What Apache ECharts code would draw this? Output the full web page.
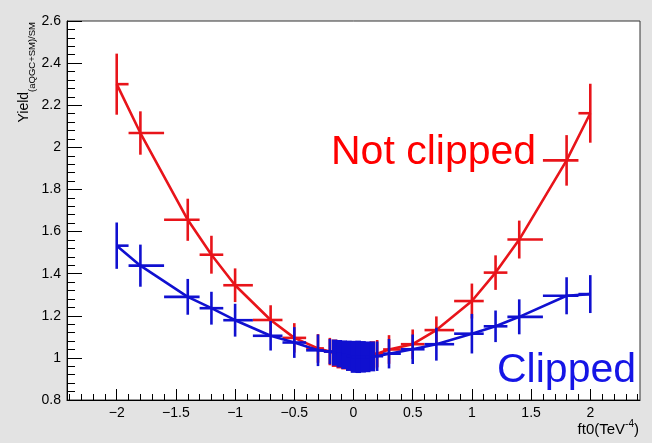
<!DOCTYPE html>
<html>
<head>
<meta charset="utf-8">
<script src="https://cdn.jsdelivr.net/npm/echarts@6/dist/echarts.min.js"></script>
<style>
  html, body { margin: 0; padding: 0; background: #e3e3e3; }
  #chart { width: 652px; height: 443px; }
</style>
</head>
<body>
<div id="chart"></div>
<script>
// ft0 values (TeV^-4), shared by both graphs
const ft0Values = [-2, -1.8, -1.4, -1.2, -1.0, -0.7, -0.5, -0.3,
  -0.2, -0.16, -0.12, -0.08, -0.04, 0, 0.04, 0.08, 0.12, 0.16, 0.2,
  0.3, 0.5, 0.7, 1.0, 1.2, 1.4, 1.8, 2.0];

// "Not clipped" (red)
const notClippedYield = [2.30, 2.068, 1.656, 1.49, 1.345, 1.18, 1.095, 1.045,
  1.03, 1.022, 1.015, 1.01, 1.005, 1.0, 1.0, 1.003, 1.008, 1.014, 1.02,
  1.04, 1.065, 1.132, 1.27, 1.405, 1.562, 1.938, 2.162];
const notClippedErr = [0.145, 0.103, 0.10, 0.09, 0.08, 0.07, 0.07, 0.068,
  0.065, 0.065, 0.065, 0.065, 0.065, 0.065, 0.065, 0.065, 0.065, 0.065, 0.065,
  0.068, 0.07, 0.065, 0.083, 0.082, 0.09, 0.12, 0.14];

// "Clipped" (blue)
const clippedYield = [1.533, 1.438, 1.29, 1.236, 1.179, 1.105, 1.073, 1.036,
  1.03, 1.025, 1.02, 1.015, 1.01, 1.005, 1.005, 1.005, 1.005, 1.007, 1.008,
  1.02, 1.041, 1.065, 1.115, 1.15, 1.195, 1.295, 1.303];
const clippedErr = [0.11, 0.10, 0.085, 0.078, 0.078, 0.07, 0.073, 0.075,
  0.06, 0.062, 0.065, 0.068, 0.072, 0.076, 0.077, 0.075, 0.073, 0.071, 0.07,
  0.07, 0.07, 0.078, 0.094, 0.075, 0.083, 0.088, 0.09];

// axis tick labels
const xTickValues = [-2, -1.5, -1, -0.5, 0, 0.5, 1, 1.5, 2];
const yTickValues = [0.8, 1.0, 1.2, 1.4, 1.6, 1.8, 2.0, 2.2, 2.4, 2.6];

const X_MIN = -2.42, X_MAX = 2.42, Y_MIN = 0.8, Y_MAX = 2.6;

const xMinor = [];
for (let i = -24; i <= 24; i++) { if (i % 5 !== 0) xMinor.push(i / 10); }
const yMinor = [];
for (let i = 20; i <= 65; i++) { if (i % 5 !== 0) yMinor.push(i * 0.04); }

function fmt(v) {
  const s = String(Number(v.toFixed(2)));
  return s.replace('-', '\u2212');
}

function buildErr(xs, ys, es) {
  return xs.map((x, i) => {
    const lo = i > 0 ? (xs[i - 1] + x) / 2 : x;
    const hi = i < xs.length - 1 ? (xs[i + 1] + x) / 2 : x;
    return [x, ys[i], lo, hi, es[i]];
  });
}

function makeRender(color) {
  return function (params, api) {
    const x = api.value(0), y = api.value(1), xl = api.value(2), xh = api.value(3), e = api.value(4);
    const c = api.coord([x, y]);
    const t = api.coord([x, y + e]);
    const b = api.coord([x, y - e]);
    const l = api.coord([xl, y]);
    const r = api.coord([xh, y]);
    const span = r[0] - l[0];
    const w = span < 8 ? span + 0.8 : 2.6;
    return {
      type: 'group',
      children: [
        { type: 'line', shape: { x1: c[0], y1: t[1], x2: c[0], y2: b[1] }, style: { stroke: color, lineWidth: w } },
        { type: 'line', shape: { x1: l[0], y1: c[1], x2: r[0], y2: c[1] }, style: { stroke: color, lineWidth: 2.6 } }
      ]
    };
  };
}

const RED = '#e8141a', BLUE = '#1010d0';
const FONT = 'Liberation Sans, Arial, sans-serif';

const chart = echarts.init(document.getElementById('chart'), null, { renderer: 'canvas' });
chart.setOption({
  backgroundColor: '#e3e3e3',
  animation: false,
  grid: { left: 67, right: 12, top: 21, bottom: 43, show: true, backgroundColor: '#ffffff', borderColor: '#333', borderWidth: 1 },
  xAxis: [{
    type: 'value', min: X_MIN, max: X_MAX, position: 'bottom',
    axisLine: { show: true, onZero: false, lineStyle: { color: '#000', width: 1 } },
    axisTick: { show: true, inside: true, length: 11, customValues: xTickValues, lineStyle: { color: '#000' } },
    axisLabel: { customValues: xTickValues, formatter: fmt, color: '#000', fontSize: 14, fontFamily: FONT, margin: 6 },
    splitLine: { show: false }
  }, {
    type: 'value', min: X_MIN, max: X_MAX, position: 'bottom', gridIndex: 0,
    axisLine: { show: false, onZero: false },
    axisTick: { show: true, inside: true, length: 6, customValues: xMinor, lineStyle: { color: '#000' } },
    axisLabel: { show: false },
    splitLine: { show: false }
  }],
  yAxis: [{
    type: 'value', min: Y_MIN, max: Y_MAX, position: 'left',
    axisLine: { show: true, onZero: false, lineStyle: { color: '#000', width: 1 } },
    axisTick: { show: true, inside: true, length: 15, customValues: yTickValues, lineStyle: { color: '#000' } },
    axisLabel: { customValues: yTickValues, formatter: fmt, color: '#000', fontSize: 14, fontFamily: FONT, margin: 6 },
    splitLine: { show: false }
  }, {
    type: 'value', min: Y_MIN, max: Y_MAX, position: 'left', gridIndex: 0,
    axisLine: { show: false, onZero: false },
    axisTick: { show: true, inside: true, length: 8, customValues: yMinor, lineStyle: { color: '#000' } },
    axisLabel: { show: false },
    splitLine: { show: false }
  }],
  series: [
    { type: 'line', data: ft0Values.map((x, i) => [x, notClippedYield[i]]), showSymbol: false,
      lineStyle: { color: RED, width: 2.6 }, z: 2 },
    { type: 'custom', data: buildErr(ft0Values, notClippedYield, notClippedErr), renderItem: makeRender(RED), z: 3 },
    { type: 'line', data: ft0Values.map((x, i) => [x, clippedYield[i]]), showSymbol: false,
      lineStyle: { color: BLUE, width: 2.6 }, z: 4 },
    { type: 'custom', data: buildErr(ft0Values, clippedYield, clippedErr), renderItem: makeRender(BLUE), z: 5 }
  ],
  graphic: [
    { type: 'text', x: 331, y: 153, z: 10, style: { text: 'Not clipped', fill: '#ff0000', font: '41px ' + FONT, textAlign: 'left', textVerticalAlign: 'middle' } },
    { type: 'text', x: 497, y: 371, z: 10, style: { text: 'Clipped', fill: '#1515e6', font: '41px ' + FONT, textAlign: 'left', textVerticalAlign: 'middle' } },
    { type: 'text', x: 37, y: 22, rotation: Math.PI / 2, z: 10,
      style: { text: '{a|Yield}{b|(aQGC+SM)/SM}', textAlign: 'right', textVerticalAlign: 'bottom', fill: '#000',
        rich: { a: { fontSize: 14, fontFamily: FONT, lineHeight: 20, verticalAlign: 'top', fill: '#000' },
                b: { fontSize: 9.5, fontFamily: FONT, lineHeight: 20, verticalAlign: 'bottom', fill: '#000' } } } },
    { type: 'text', x: 639, y: 428, z: 10,
      style: { text: '{a|ft0(TeV}{s|-4}{a|)}', textAlign: 'right', textVerticalAlign: 'middle', fill: '#000',
        rich: { a: { fontSize: 15, fontFamily: FONT, lineHeight: 18, verticalAlign: 'bottom', fill: '#000' },
                s: { fontSize: 10, fontFamily: FONT, lineHeight: 18, verticalAlign: 'top', fill: '#000' } } } }
  ]
});
</script>
</body>
</html>
